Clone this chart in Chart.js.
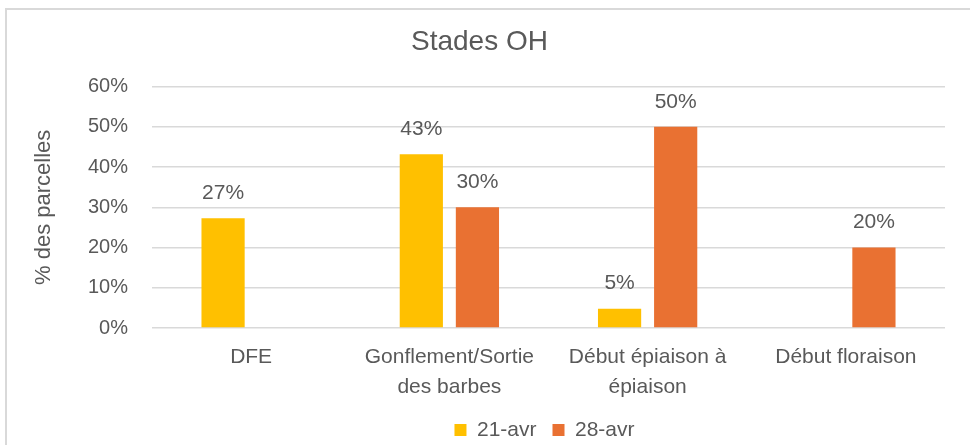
<!DOCTYPE html>
<html>
<head>
<meta charset="utf-8">
<script src="https://cdn.jsdelivr.net/npm/chart.js@4.4.1/dist/chart.umd.min.js"></script>
<style>
  html, body { margin: 0; padding: 0; background: #fff; overflow: hidden; }
  #frame { position: absolute; left: 5px; top: 8px; width: 1000px; height: 500px; border: 2px solid #d9d9d9; box-sizing: border-box; }
  #wrap { position: absolute; left: 0; top: 0; width: 970px; height: 445px; }
</style>
</head>
<body>
<div id="frame"></div>
<div id="wrap"><canvas id="stadesChart"></canvas></div>
<script>
// Catégories et séries (valeurs en %)
const categories = ['DFE', ['Gonflement/Sortie', 'des barbes'], ['Début épiaison à', 'épiaison'], 'Début floraison'];
const serie21avr = [27.3, 43.2, 4.8, null];
const serie28avr = [null, 30, 50, 20];
const yTicks = [0, 10, 20, 30, 40, 50, 60];

const textGrey = '#595959';
const sans = "'Liberation Sans', Arial, sans-serif";

// Petit plugin pour écrire les valeurs au-dessus des barres
const valeursPlugin = {
    id: 'valeurs',
    afterLayout(chart) {
        // la légende est centrée sous la zone de tracé, comme dans Excel
        if (chart.legend) {
            chart.legend.left += 65;
            chart.legend.right += 65;
        }
    },
    afterDatasetsDraw(chart) {
        const ctx = chart.ctx;
        ctx.save();
        ctx.font = '21px ' + sans;
        ctx.fillStyle = textGrey;
        ctx.textAlign = 'center';
        ctx.textBaseline = 'middle';
        chart.data.datasets.forEach((ds, i) => {
            chart.getDatasetMeta(i).data.forEach((bar, j) => {
                const v = ds.data[j];
                if (v === null || v === undefined) return;
                ctx.fillText(Math.round(v) + '%', bar.x, bar.y - 25);
            });
        });
        ctx.restore();
    }
};

document.addEventListener('DOMContentLoaded', function() {
    const ctx = document.getElementById('stadesChart').getContext('2d');
    new Chart(ctx, {
        type: 'bar',
        data: {
            labels: categories,
            datasets: [{
                label: '21-avr',
                data: serie21avr,
                backgroundColor: '#FFC000',
                categoryPercentage: 0.566,
                barPercentage: 0.77
            }, {
                label: '28-avr',
                data: serie28avr,
                backgroundColor: '#E97132',
                categoryPercentage: 0.566,
                barPercentage: 0.77
            }]
        },
        plugins: [valeursPlugin],
        options: {
            responsive: true,
            maintainAspectRatio: false,
            animation: false,
            layout: { padding: { left: 14, right: 25, top: 0, bottom: -5.5 } },
            plugins: {
                title: {
                    display: true,
                    text: 'Stades OH',
                    color: textGrey,
                    font: { family: sans, size: 28, weight: 'normal' },
                    padding: { top: 25, bottom: 28 }
                },
                legend: {
                    position: 'bottom',
                    labels: {
                        color: textGrey,
                        font: { family: sans, size: 21 },
                        boxWidth: 12,
                        boxHeight: 12,
                        padding: 16
                    }
                },
                tooltip: { enabled: false }
            },
            scales: {
                x: {
                    afterFit: function(scale) { scale.height = 75.5; },
                    grid: { display: false },
                    border: { display: false },
                    ticks: {
                        color: textGrey,
                        font: { family: sans, size: 21, lineHeight: 1.45 },
                        maxRotation: 0,
                        autoSkip: false,
                        padding: 6
                    }
                },
                y: {
                    min: 0,
                    max: 60,
                    afterFit: function(scale) { scale.width = 138; },
                    afterBuildTicks: function(scale) {
                        scale.ticks = yTicks.map(v => ({ value: v }));
                    },
                    grid: { color: '#d9d9d9', lineWidth: 1.5, drawTicks: false },
                    border: { display: false },
                    ticks: {
                        color: textGrey,
                        font: { family: sans, size: 20 },
                        padding: 24,
                        callback: v => v + '%'
                    },
                    title: {
                        display: true,
                        text: '% des parcelles',
                        color: textGrey,
                        font: { family: sans, size: 22 },
                        padding: { top: 17 }
                    }
                }
            }
        }
    });
});
</script>
</body>
</html>
